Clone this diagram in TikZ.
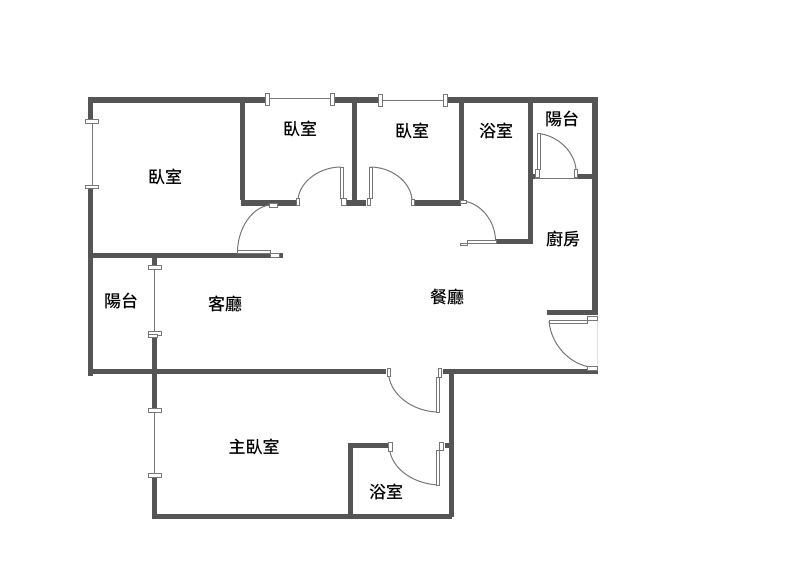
\documentclass[tikz,border=0pt]{standalone}
\usepackage{fontspec}
\newfontfamily\cjk{Noto Sans CJK TC Medium}
\definecolor{wallc}{HTML}{555555}
\definecolor{fitc}{HTML}{777777}
\tikzset{
  wall/.style={draw=wallc,line width=.5pt,fill=wallc},
  fit/.style={draw=fitc,line width=1pt,fill=white},
  glass/.style={draw=fitc,line width=1pt},
  swing/.style={draw=fitc,line width=1pt},
  lbl/.style={font=\cjk\fontsize{17}{18}\selectfont,text=black,inner sep=0pt}
}
\newcommand{\wallrect}[4]{\filldraw[wall] (#1,#2) rectangle (#3,#4);}
\newcommand{\fitrect}[4]{\draw[fit] (#1,#2) rectangle (#3,#4);}
\begin{document}
\begin{tikzpicture}[x=1pt,y=-1pt]
\useasboundingbox (0,0) rectangle (800,576);
\fill[white] (0,0) rectangle (800,576);
% glass
\draw[glass] (92,121) -- (92,187);
\draw[glass] (154.5,268) -- (154.5,333);
\draw[glass] (154.5,410) -- (154.5,475);
\draw[glass] (267,98.6) -- (332,98.6);
\draw[glass] (380,100) -- (445,100);
\draw[draw=black!12,line width=.8pt] (597,318) -- (597,370);
\draw[glass] (532,178) -- (592,178);
% walls
\wallrect{88}{97}{265}{102.5}
\wallrect{335}{97}{378}{102.5}
\wallrect{448}{97}{597.5}{102.5}
\wallrect{88}{97}{92.5}{121}
\wallrect{88}{187}{92.5}{375}
\wallrect{240}{100}{244.5}{199}
\wallrect{241.5}{200.5}{295}{205}
\wallrect{347}{200.5}{365}{205}
\wallrect{352.5}{100}{356.5}{203}
\wallrect{415.5}{200.5}{460}{205}
\wallrect{459}{100}{463}{200}
\wallrect{496}{239.5}{531}{243.5}
\wallrect{528}{100}{532}{243.5}
\wallrect{530}{174}{534}{178}
\wallrect{578}{174}{592}{178}
\wallrect{592.5}{97}{597.5}{314}
\wallrect{547}{310}{597}{314}
\wallrect{90}{253}{270}{257.5}
\wallrect{278}{253.5}{282}{257.5}
\wallrect{152.5}{255}{156.5}{266}
\wallrect{152.5}{337}{156.5}{409}
\wallrect{152.5}{477}{156.5}{518}
\wallrect{88}{369}{385}{373.5}
\wallrect{443}{369}{597}{373.5}
\wallrect{449}{371}{453}{516}
\wallrect{445}{443.5}{451}{447.5}
\wallrect{348}{443.5}{387}{447.5}
\wallrect{348}{445}{352}{516}
\wallrect{153}{514}{451.5}{518}
% door swings
\draw[swing] (298,199) .. controls (300,181) and (320,167) .. (341,167);
\draw[swing] (370,167) .. controls (391,167) and (410,181) .. (412,199);
\draw[swing] (270,205) .. controls (252,207) and (238,228) .. (237.5,251);
\draw[swing] (463,201) .. controls (481,203) and (495,221) .. (495.5,240);
\draw[swing] (538,133.5) .. controls (556,135) and (574,150) .. (576,169);
\draw[swing] (549,321) .. controls (551,345) and (570,364) .. (590,367);
\draw[swing] (389,377) .. controls (392,395) and (412,411) .. (437,412);
\draw[swing] (390,452) .. controls (394,470) and (414,484) .. (439,485);
% door leaves and jambs
\fitrect{340}{167}{343.5}{198}
\fitrect{296.5}{198.5}{299.5}{205.5}
\fitrect{341.5}{198.5}{346.5}{205.5}
\fitrect{367}{198.5}{370}{205.5}
\fitrect{369.5}{167}{372.5}{198}
\fitrect{411}{199}{414.5}{205.5}
\fitrect{269}{203}{277.5}{207}
\fitrect{237.5}{250.5}{270}{253.5}
\fitrect{270}{253.5}{279}{257}
\fitrect{460}{200}{466.5}{203.5}
\fitrect{467}{240}{496}{243}
\fitrect{460}{243}{467}{245.5}
\fitrect{537.5}{133.5}{540.5}{169}
\fitrect{535.5}{169}{539.5}{177}
\fitrect{574.5}{169}{577.5}{177}
\fitrect{549}{320}{587}{323}
\fitrect{587}{316}{597}{320}
\fitrect{587}{366}{597}{370}
\fitrect{387.5}{368}{390.5}{376.5}
\fitrect{436}{377}{439.5}{412}
\fitrect{438}{368}{441.5}{377}
\fitrect{388.5}{442}{392}{451}
\fitrect{436.5}{450}{439.5}{485}
\fitrect{439.5}{442}{443.5}{450}
% window posts
\fitrect{85.5}{119.5}{98.5}{123}
\fitrect{85.5}{185}{98.5}{188.5}
\fitrect{265.5}{93.5}{269.5}{105.5}
\fitrect{330.5}{93.5}{334.5}{105.5}
\fitrect{378.5}{94}{382.5}{106}
\fitrect{443.5}{94}{447.5}{106}
\fitrect{148.5}{265.5}{161.5}{269.5}
\fitrect{148.5}{331}{161.5}{335}
\fitrect{148.5}{334}{157.5}{337.5}
\fitrect{148.5}{408.5}{161.5}{412.5}
\fitrect{148.5}{473.5}{161.5}{477.5}
% labels
\node[lbl] (r1) at (165,177) {臥室};
\node[lbl] (r2) at (300,129) {臥室};
\node[lbl] (r3) at (412,131) {臥室};
\node[lbl] (b1) at (496,131) {浴室};
\node[lbl] (y1) at (562,119) {陽台};
\node[lbl] (k) at (563,239) {廚房};
\node[lbl] (d) at (447,297) {餐廳};
\node[lbl] (l) at (225,304) {客廳};
\node[lbl] (y2) at (121,301) {陽台};
\node[lbl] (m) at (254,447) {主臥室};
\node[lbl] (b2) at (386,492) {浴室};
\end{tikzpicture}
\end{document}
